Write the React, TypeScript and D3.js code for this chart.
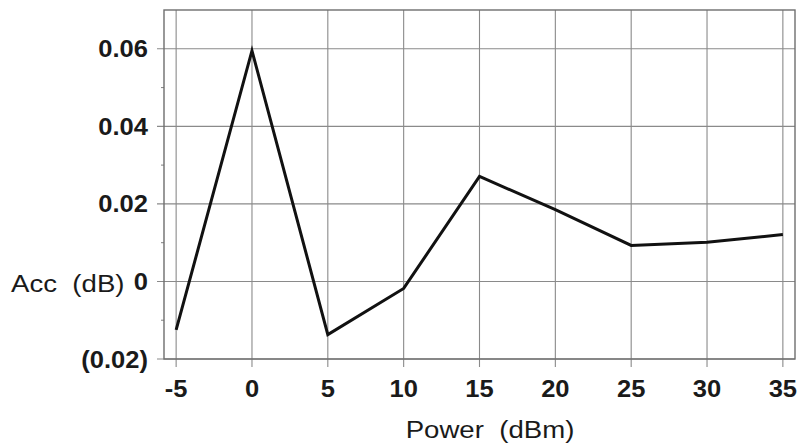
import React from "react";
import * as d3 from "d3";

const powerDbm = [-5, 0, 5, 10, 15, 20, 25, 30, 35];
const accDb = [-0.0125, 0.0595, -0.0137, -0.0018, 0.0271, 0.0185, 0.0093, 0.0101, 0.0121];
const xTicks = [-5, 0, 5, 10, 15, 20, 25, 30, 35];
const yTicks = [-0.02, 0, 0.02, 0.04, 0.06];
const yMinorTicks = [-0.01, 0.01, 0.03, 0.05];
const yTickLabels = ["(0.02)", "0", "0.02", "0.04", "0.06"];

const W = 799;
const H = 444;
const left = 164;
const right = 795;
const top = 10;
const bottom = 359;

export default function App() {
  const x = d3.scaleLinear().domain([-5.8, 35.8]).range([left, right]);
  const y = d3.scaleLinear().domain([-0.02, 0.07]).range([bottom, top]);
  const line = d3
    .line<number>()
    .x((_, i) => x(powerDbm[i]))
    .y((d) => y(d));
  const grid = "#8a8a8a";
  const font = "'Liberation Sans', Arial, Helvetica, sans-serif";
  const sx = 1.11;
  const tx = 1.15;
  return (
    <svg
      width={W}
      height={H}
      style={{ position: "absolute", left: 0, top: 0, background: "#fff" }}
      fontFamily={font}
    >
      <rect x={0} y={0} width={W} height={H} fill="#fff" />
      {xTicks.map((t) => (
        <line key={"vx" + t} x1={x(t)} x2={x(t)} y1={top} y2={bottom + 8} stroke={grid} strokeWidth={1.1} />
      ))}
      {yTicks.map((t) => (
        <line key={"hy" + t} x1={left - 7} x2={right} y1={y(t)} y2={y(t)} stroke={grid} strokeWidth={1.1} />
      ))}
      {yMinorTicks.map((t) => (
        <line key={"my" + t} x1={left - 3} x2={left} y1={y(t)} y2={y(t)} stroke={grid} strokeWidth={1.1} />
      ))}
      <rect x={left} y={top} width={right - left} height={bottom - top} fill="none" stroke="#6e6e6e" strokeWidth={1.4} />
      <path d={line(accDb) || ""} fill="none" stroke="#111" strokeWidth={3} strokeLinejoin="miter" />
      {yTicks.map((t, i) => (
        <text
          key={"yl" + t}
          transform={`translate(148, ${y(t) + 8.5}) scale(${sx},1)`}
          textAnchor="end"
          fontSize={23}
          fontWeight="bold"
          fill="#1a1a1a"
        >
          {yTickLabels[i]}
        </text>
      ))}
      {xTicks.map((t) => (
        <text
          key={"xl" + t}
          transform={`translate(${x(t)}, 397) scale(${sx},1)`}
          textAnchor="middle"
          fontSize={23}
          fontWeight="bold"
          fill="#1a1a1a"
        >
          {t}
        </text>
      ))}
      <text
        transform={`translate(11, 292) scale(${tx},1)`}
        fontSize={24}
        fill="#1a1a1a"
        style={{ whiteSpace: "pre" }}
      >
        {"Acc  (dB)"}
      </text>
      <text
        transform={`translate(490, 438) scale(${tx},1)`}
        textAnchor="middle"
        fontSize={24}
        fill="#1a1a1a"
        style={{ whiteSpace: "pre" }}
      >
        {"Power  (dBm)"}
      </text>
    </svg>
  );
}
